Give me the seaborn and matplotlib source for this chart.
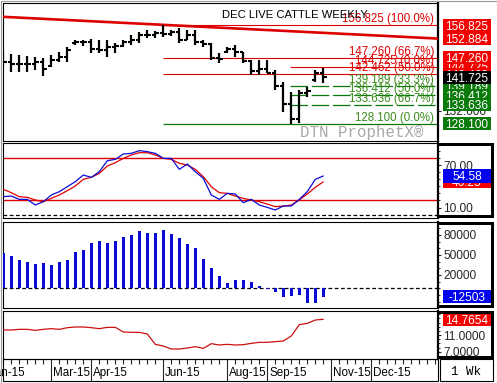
import numpy as np
import pandas as pd
import seaborn as sns
import matplotlib.pyplot as plt
import matplotlib.transforms as mtransforms
from matplotlib.patches import Rectangle
from matplotlib.ticker import MultipleLocator, FixedLocator
sns.set_style('white')
plt.rcParams['font.family'] = ['Liberation Sans', 'DejaVu Sans']

W, H = 497, 383

# weekly bars, dated on Sundays
week_dates = pd.date_range('2015-01-18', periods=41, freq='W-SUN')

opens = [147.0, 146.0, 145.5, 145.6, 145.4, 146.0, 144.8, 146.8, 147.6, 151.5,
         152.0, 151.8, 150.0, 149.5, 150.5, 150.6, 151.8, 152.5, 153.8, 154.0,
         154.6, 154.2, 154.8, 152.6, 154.0, 152.0, 151.4, 147.2, 149.0, 149.8,
         149.0, 146.5, 143.5, 144.0, 143.0, 139.0, 134.0, 129.5, 137.0, 140.8,
         143.0]
highs = [149.3, 148.4, 148.1, 147.8, 147.5, 147.2, 148.1, 149.0, 150.4, 152.5,
         152.5, 152.8, 152.5, 152.5, 151.6, 152.5, 153.9, 154.8, 155.4, 155.1,
         156.825, 155.4, 156.0, 155.4, 155.4, 152.5, 151.6, 148.7, 150.4, 151.0,
         149.0, 146.7, 146.7, 146.7, 143.8, 140.3, 137.4, 138.0, 138.8, 143.8,
         144.3]
lows = [144.9, 143.2, 143.2, 143.2, 143.8, 142.0, 144.6, 146.1, 146.1, 151.0,
        150.7, 148.7, 148.7, 147.5, 148.7, 150.4, 151.0, 151.6, 153.1, 153.1,
        153.3, 153.6, 151.6, 152.5, 151.0, 150.4, 146.7, 145.8, 148.7, 147.5,
        145.8, 142.3, 142.3, 142.9, 138.0, 131.6, 128.1, 128.4, 135.9, 140.3,
        140.0]
closes = [146.0, 145.5, 145.6, 145.4, 146.0, 144.0, 146.8, 147.6, 149.5, 152.0,
          151.8, 150.0, 149.5, 150.5, 150.6, 151.8, 152.5, 153.8, 154.0, 154.6,
          154.2, 154.8, 152.6, 154.0, 152.0, 151.4, 147.2, 147.0, 149.8, 149.0,
          146.5, 143.5, 144.0, 143.0, 139.0, 134.0, 129.5, 137.0, 137.8, 143.0,
          141.725]

stoch_k = [25.3, 26.2, 21.5, 21.5, 13.5, 18.2, 27.7, 32.4, 39.4, 46.5,
           55.9, 52.6, 60.6, 76.1, 78.0, 85.6, 86.5, 90.3, 88.9, 86.5,
           79.4, 79.4, 63.9, 71.4, 60.6, 51.2, 27.7, 21.5, 30.0, 29.1,
           16.8, 21.5, 13.5, 10.2, 6.5, 12.1, 12.1, 21.5, 32.4, 49.8,
           54.58]
stoch_d = [35.7, 30.9, 25.3, 24.4, 20.6, 18.2, 22.9, 27.7, 33.8, 40.4,
           49.8, 52.6, 58.3, 68.6, 73.3, 79.4, 84.2, 87.4, 87.4, 84.2,
           79.4, 78.0, 72.4, 70.0, 63.9, 53.5, 39.4, 30.9, 30.0, 26.2,
           22.9, 20.6, 18.2, 14.9, 11.2, 12.1, 13.5, 20.6, 29.1, 38.5,
           46.25]

macd_hist = [53450, 48450, 42450, 39450, 36450, 37950, 34950, 39450, 42450, 54450,
             57450, 67450, 71450, 67450, 70450, 76450, 79450, 85450, 83450, 82450,
             86950, 80950, 74950, 65950, 59950, 43450, 29950, 18450, 7450, 11950,
             11950, 9450, 3000, -1500, -5000, -13550, -11550, -10000, -21550, -21550,
             -12503]

volatility = [12.2, 12.2, 12.36, 12.36, 12.12, 12.36, 12.52, 12.36, 12.76, 12.92,
              12.92, 12.76, 12.52, 12.84, 12.84, 11.72, 11.64, 11.64, 11.24, 8.76,
              8.36, 7.64, 7.64, 7.88, 8.2, 7.8, 8.92, 8.6, 8.76, 8.6,
              8.68, 9.0, 9.24, 9.24, 9.4, 9.56, 10.76, 13.48, 13.8, 14.6,
              14.7654]

# trend line value at the left and right edges of the window
trend_values = [159.2, 152.884]

# fibonacci levels: big swing (from the June high), small swing (from the Sept low)
fib_big = [156.825, 147.260, 142.462, 128.100]
fib_big_pct = ['100.0%', '66.7%', '50.0%', '0.0%']
fib_small_red = [144.725]
fib_small_red_pct = ['0.0%']
fib_small_green = [139.189, 136.412, 133.636]
fib_small_green_pct = ['33.3%', '50.0%', '66.7%']
swing_high_bar = 20
swing_low_bar = 36

tick_months = ['2015-01', '2015-03', '2015-04', '2015-06', '2015-08', '2015-09', '2015-11', '2015-12']

RED = '#dd0000'
BOX_RED = '#f50000'
GREEN = '#0a7a0a'
TXT_GREEN = '#3b8c1c'
BLUE = '#0b0bd6'

idx = np.arange(len(week_dates))
XLIM = (-0.04, 54.34)

fig = plt.figure(figsize=(W / 100, H / 100), dpi=100)
fig.patch.set_facecolor('white')


def px_axes(x0, y0, x1, y1):
    return fig.add_axes([x0 / W, 1 - y1 / H, (x1 - x0) / W, (y1 - y0) / H])


def fig_rect(x0, y0, x1, y1, **kw):
    fig.add_artist(Rectangle((x0 / W, 1 - y1 / H), (x1 - x0) / W, (y1 - y0) / H,
                             transform=fig.transFigure, **kw))


def style_panel(ax, ylim):
    ax.set_xlim(XLIM)
    ax.set_ylim(ylim)
    ax.set_facecolor('white')
    ax.yaxis.tick_right()
    ax.tick_params(axis='y', which='major', direction='out', length=2.5, width=0.8,
                   pad=1.4, labelsize=8.6, right=True, left=False, labelright=True, labelleft=False)
    ax.tick_params(axis='y', which='minor', direction='out', length=1.5, width=0.7, right=True, left=False)
    ax.tick_params(axis='x', which='both', bottom=False, labelbottom=False)
    for s in ax.spines.values():
        s.set_color('black')
        s.set_linewidth(0.8)
    ax.spines['right'].set_linewidth(1.6)
    ax.set_xlabel('')
    ax.set_ylabel('')


def value_box(ax, y, text, face, z, h_px=13):
    trans = mtransforms.blended_transform_factory(ax.transAxes, ax.transData)
    bbox = ax.get_window_extent()
    lo, hi = ax.get_ylim()
    h = h_px * (hi - lo) / bbox.height
    ax.add_patch(Rectangle((1.0115, y - h / 2), 0.1103, h, transform=trans, facecolor=face,
                           edgecolor='none', clip_on=False, zorder=z))
    ax.text(1.0115 + 0.1103 / 2, y, text, transform=trans, ha='center', va='center_baseline',
            color='white', fontsize=8.6, clip_on=False, zorder=z + 0.5)


ax_p = px_axes(3, 3, 438, 141)
ax_s = px_axes(3, 143, 438, 218)
ax_h = px_axes(3, 222, 438, 308)
ax_v = px_axes(3, 311, 438, 359)

# ---- price panel ----
style_panel(ax_p, (123.16, 163.21))
ax_p.plot(XLIM, trend_values, color=RED, lw=1.9, solid_capstyle='butt', zorder=3)
ax_p.hlines(fib_big[:3], swing_high_bar, XLIM[1], color=RED, lw=0.8, zorder=2)
ax_p.hlines(fib_big[3:], swing_high_bar, XLIM[1], color=GREEN, lw=0.9, zorder=2)
ax_p.hlines(fib_small_red, swing_low_bar - 0.2, XLIM[1], color=RED, lw=0.8, zorder=2)
ax_p.hlines(fib_small_green, swing_low_bar - 0.2, XLIM[1], color=GREEN, lw=0.9,
            linestyles=(0, (14, 3)), zorder=2)

ax_p.vlines(idx, lows, highs, color='black', lw=1.6, zorder=4)
ax_p.hlines(opens, idx - 0.42, idx, color='black', lw=1.5, zorder=4)
ax_p.hlines(closes, idx, idx + 0.42, color='black', lw=1.5, zorder=4)

fib_text = [(v, p, RED) for v, p in zip(fib_big[:3], fib_big_pct[:3])]
fib_text += [(v, p, RED) for v, p in zip(fib_small_red, fib_small_red_pct)]
fib_text += [(v, p, TXT_GREEN) for v, p in zip(fib_small_green, fib_small_green_pct)]
fib_text += [(fib_big[3], fib_big_pct[3], TXT_GREEN)]
tr_p = mtransforms.blended_transform_factory(ax_p.transAxes, ax_p.transData)
for v, p, c in fib_text:
    ax_p.text(0.991, v, f'{v:.3f} ({p})', transform=tr_p, ha='right', va='bottom',
              color=c, fontsize=8.3, zorder=5)

ax_p.text(0.503, 0.913, 'DEC LIVE CATTLE WEEKLY', transform=ax_p.transAxes,
          ha='left', va='center', fontsize=8.1, color='black', zorder=6)
ax_p.text(0.824, 0.065, 'DTN ProphetX\u00ae', transform=ax_p.transAxes, ha='center',
          va='center', fontsize=11.3, color='#a8a8a8', family=['Liberation Mono', 'DejaVu Sans Mono'],
          zorder=6)

ax_p.yaxis.set_major_locator(FixedLocator([132]))
ax_p.set_yticklabels(['132.000'])

z = 10
for v, face in [(fib_small_red[0], BOX_RED), (fib_big[1], BOX_RED), (fib_big[2], BOX_RED),
                (fib_small_green[0], GREEN), (fib_small_green[1], GREEN), (fib_small_green[2], GREEN),
                (fib_big[0], BOX_RED), (trend_values[1], BOX_RED), (fib_big[3], GREEN)]:
    value_box(ax_p, v, f'{v:.3f}', face, z)
    z += 1
value_box(ax_p, closes[-1], f'{closes[-1]:.3f}', 'black', z)

# ---- stochastics panel ----
sns.lineplot(x=idx, y=stoch_d, ax=ax_s, color=RED, lw=0.9, zorder=3)
sns.lineplot(x=idx, y=stoch_k, ax=ax_s, color=BLUE, lw=0.9, zorder=4)
ax_s.axhline(80, color=RED, lw=1.0, zorder=2)
ax_s.axhline(20, color=RED, lw=1.0, zorder=2)
ax_s.axhline(0, color='black', lw=0.9, ls=(0, (3, 2)), zorder=2)
style_panel(ax_s, (-4.8, 101.1))
ax_s.yaxis.set_major_locator(FixedLocator([70, 10]))
ax_s.set_yticklabels(['70.00', '10.00'])
ax_s.yaxis.set_minor_locator(MultipleLocator(10))
value_box(ax_s, stoch_d[-1], f'{stoch_d[-1]:.2f}', BOX_RED, 10)
value_box(ax_s, stoch_k[-1], f'{stoch_k[-1]:.2f}', '#0000f0', 11, h_px=14)

# ---- histogram panel ----
sns.barplot(x=idx, y=macd_hist, ax=ax_h, native_scale=True, color=BLUE, saturation=1,
            width=0.36, errorbar=None, linewidth=0, zorder=3)
ax_h.axhline(0, color='black', lw=0.9, ls=(0, (3, 2)), zorder=2)
style_panel(ax_h, (-29550, 99450))
ax_h.yaxis.set_major_locator(FixedLocator([80000, 50000, 20000]))
ax_h.set_yticklabels(['80000', '50000', '20000'])
ax_h.yaxis.set_minor_locator(MultipleLocator(10000))
value_box(ax_h, macd_hist[-1], f'{macd_hist[-1]:.0f}', '#0000f0', 10)

# ---- volatility panel ----
sns.lineplot(x=idx, y=volatility, ax=ax_v, color='#cc1010', lw=0.9, zorder=3)
style_panel(ax_v, (5.24, 16.76))
ax_v.yaxis.set_major_locator(FixedLocator([11, 7]))
ax_v.set_yticklabels(['11.0000', '7.0000'])
ax_v.yaxis.set_minor_locator(MultipleLocator(1))
value_box(ax_v, volatility[-1], f'{volatility[-1]:.4f}', BOX_RED, 10)

# ---- time axis ----
calendar = pd.date_range('2014-12-28', '2016-01-31', freq='W-SUN')
week_pos = np.array([(d - week_dates[0]).days / 7 for d in calendar])
month_pos, month_lab = [], []
for m in tick_months:
    first = calendar[calendar.strftime('%Y-%m') == m][0]
    month_pos.append((first - week_dates[0]).days / 7)
    month_lab.append(first.strftime('%b-%y'))

ax_v.xaxis.set_major_locator(FixedLocator(month_pos))
ax_v.xaxis.set_minor_locator(FixedLocator(week_pos[(week_pos > XLIM[0]) & (week_pos < XLIM[1])]))
ax_v.tick_params(axis='x', which='major', bottom=True, direction='out', length=15.8,
                 width=0.8, labelbottom=False)
ax_v.tick_params(axis='x', which='minor', bottom=True, direction='out', length=3.6, width=0.8)
ax_v.set_xlim(XLIM)

tr_x = mtransforms.offset_copy(mtransforms.blended_transform_factory(ax_v.transData, ax_v.transAxes),
                               fig=fig, x=2, y=0, units='dots')
for pos, lab in zip(month_pos, month_lab):
    ax_v.text(pos, -0.292, lab, transform=tr_x, ha='left', va='center', fontsize=8.4,
              color='black', clip_on=False)

# frames around the axis strip and the right label column
fig_rect(3, 359, 438, 381, facecolor='none', edgecolor='black', lw=0.8)
fig_rect(440, 359, 493, 381, facecolor='none', edgecolor='black', lw=0.8)
fig.text(466 / W, 1 - 372 / H, '1 Wk', ha='center', va='center', fontsize=9,
         family=['Liberation Mono', 'DejaVu Sans Mono'], color='black')
for y0, y1 in [(143, 218), (222, 308), (311, 359)]:
    fig_rect(439, y0, 492, y0 + 3, facecolor='black', edgecolor='none')
    fig_rect(439, y1 - 3, 492, y1, facecolor='black', edgecolor='none')
    fig_rect(491, y0, 493.5, y1, facecolor='black', edgecolor='none')
fig_rect(0.5, 0.5, 496.5, 382.5, facecolor='none', edgecolor='#9a9a9a', lw=0.8)

fig.savefig('out.png', dpi=100, facecolor='white')
